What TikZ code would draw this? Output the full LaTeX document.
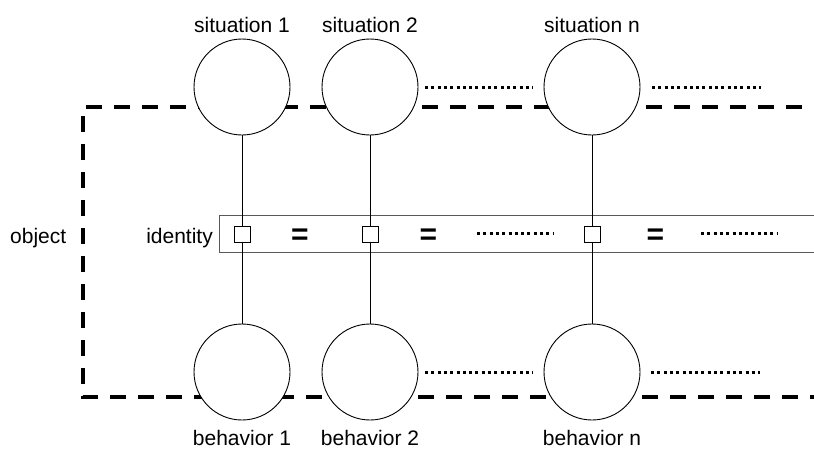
\documentclass[tikz,border=0pt]{standalone}
\usepackage{fontspec}
\setmainfont{Liberation Sans}
\begin{document}
\begin{tikzpicture}[x=1pt,y=-1pt,
  state/.style={circle,draw,fill=white,line width=0.9pt,minimum size=96pt,inner sep=0pt},
  idbox/.style={rectangle,draw,fill=white,line width=0.9pt,minimum size=16pt,inner sep=0pt},
  lbl/.style={font=\fontsize{21}{24}\selectfont,anchor=base,inner sep=0pt},
  eqsign/.style={font=\fontsize{30}{30}\selectfont\bfseries,inner sep=0pt},
  link/.style={line width=0.9pt},
  objframe/.style={line width=4pt,dash pattern=on 16pt off 12pt},
  more/.style={line width=3pt,dash pattern=on 3pt off 3.3pt}]
\useasboundingbox (0,0) rectangle (814,450);
\clip (0,0) rectangle (814,450);

% object frame (open on the right)
\draw[objframe] (830,107) -- (83,107) -- (83,397) -- (830,397);

% identity strip
\draw[line width=1pt,draw=black!65] (830,215) -- (219,215) -- (219,252) -- (830,252);

% situations and behaviors
\node[state] (s1) at (242,87) {};
\node[state] (s2) at (370,87) {};
\node[state] (sn) at (592,87) {};
\node[state] (b1) at (242,372) {};
\node[state] (b2) at (370,372) {};
\node[state] (bn) at (592,372) {};

% identity markers
\node[idbox] (i1) at (242,234) {};
\node[idbox] (i2) at (370,234) {};
\node[idbox] (in) at (592,234) {};

\draw[link] (s1) -- (i1) -- (b1);
\draw[link] (s2) -- (i2) -- (b2);
\draw[link] (sn) -- (in) -- (bn);

% continuation dots
\coordinate (ta) at (425,87);  \coordinate (tb) at (533,87);
\coordinate (tc) at (652,87);  \coordinate (td) at (761,87);
\coordinate (ba) at (425,372); \coordinate (bb) at (533,372);
\coordinate (bc) at (651,372); \coordinate (bd) at (760,372);
\coordinate (ma) at (477,233); \coordinate (mb) at (554,233);
\coordinate (mc) at (701,233); \coordinate (md) at (778,233);
\draw[more] (ta) -- (tb);
\draw[more] (tc) -- (td);
\draw[more] (ba) -- (bb);
\draw[more] (bc) -- (bd);
\draw[more] (ma) -- (mb);
\draw[more] (mc) -- (md);

% equality signs
\node[eqsign] (e1) at (300,237) {=};
\node[eqsign] (e2) at (428.5,237) {=};
\node[eqsign] (e3) at (655.5,237) {=};

% labels
\node[lbl] (ls1) at (242,32) {situation 1};
\node[lbl] (ls2) at (370,32) {situation 2};
\node[lbl] (lsn) at (592,32) {situation n};
\node[lbl] (lb1) at (242,445) {behavior 1};
\node[lbl] (lb2) at (370,445) {behavior 2};
\node[lbl] (lbn) at (592,445) {behavior n};
\node[lbl,anchor=base west] (lobj) at (10,243) {object};
\node[lbl,anchor=base east] (lid) at (213,243) {identity};
\end{tikzpicture}
\end{document}
